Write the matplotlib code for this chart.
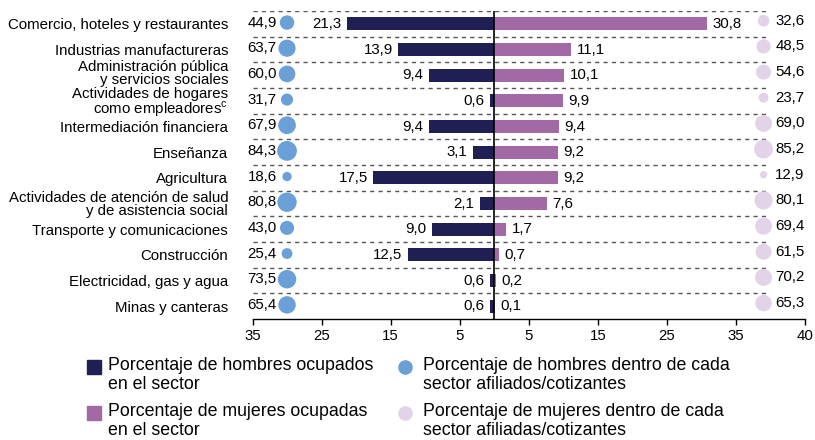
import matplotlib
matplotlib.use('Agg')
import matplotlib.pyplot as plt
import matplotlib.transforms as mtransforms
from matplotlib.patches import Rectangle
from matplotlib.lines import Line2D

plt.rcParams['font.family'] = ['Liberation Sans', 'DejaVu Sans']
plt.rcParams['mathtext.fontset'] = 'custom'
plt.rcParams['mathtext.rm'] = 'Liberation Sans'

sectores = ['Comercio, hoteles y restaurantes',
            'Industrias manufactureras',
            'Administración pública\ny servicios sociales',
            'Actividades de hogares\ncomo empleadores$^{\\mathrm{c}}$',
            'Intermediación financiera',
            'Enseñanza',
            'Agricultura',
            'Actividades de atención de salud\ny de asistencia social',
            'Transporte y comunicaciones',
            'Construcción',
            'Electricidad, gas y agua',
            'Minas y canteras']
hombres_ocup = [21.3, 13.9, 9.4, 0.6, 9.4, 3.1, 17.5, 2.1, 9.0, 12.5, 0.6, 0.6]
mujeres_ocup = [30.8, 11.1, 10.1, 9.9, 9.4, 9.2, 9.2, 7.6, 1.7, 0.7, 0.2, 0.1]
hombres_afil = [44.9, 63.7, 60.0, 31.7, 67.9, 84.3, 18.6, 80.8, 43.0, 25.4, 73.5, 65.4]
mujeres_afil = [32.6, 48.5, 54.6, 23.7, 69.0, 85.2, 12.9, 80.1, 69.4, 61.5, 70.2, 65.3]
# the original axis is evenly spaced; its last tick is labelled 40
tick_vals = [-35, -25, -15, -5, 5, 15, 25, 35, 45]
tick_labels = ['35', '25', '15', '5', '5', '15', '25', '35', '40']

c_h_bar = '#1f1f54'
c_m_bar = '#a369a5'
c_h_dot = '#6a9fd8'
c_m_dot = '#e2d3e8'

fs = 10.8

def fmt(v):
    return ('%.1f' % v).replace('.', ',')

fig = plt.figure(figsize=(8.15, 4.4), dpi=100)
ax = fig.add_axes([252.5 / 815, 1 - 319 / 440, 552.5 / 815, 308 / 440])

n = len(sectores)
ys = list(range(n))

ax.barh(ys, [-v for v in hombres_ocup], height=0.5, color=c_h_bar, zorder=3)
ax.barh(ys, mujeres_ocup, height=0.5, color=c_m_bar, zorder=3)

x_h_dot = -30.0
x_m_dot = 39.0
size_k = 2.4
ax.scatter([x_h_dot] * n, [y - 0.05 for y in ys], s=[size_k * v for v in hombres_afil],
           color=c_h_dot, zorder=4, linewidths=0)
ax.scatter([x_m_dot] * n, [y - 0.12 for y in ys], s=[size_k * 0.9 * v for v in mujeres_afil],
           color=c_m_dot, zorder=4, linewidths=0)

for i in range(n):
    ax.annotate(fmt(hombres_ocup[i]), (-hombres_ocup[i], i), xytext=(-4, 0),
                textcoords='offset points', ha='right', va='center', fontsize=fs)
    ax.annotate(fmt(mujeres_ocup[i]), (mujeres_ocup[i], i), xytext=(4, 0),
                textcoords='offset points', ha='left', va='center', fontsize=fs)
    ax.annotate(fmt(hombres_afil[i]), (x_h_dot, i - 0.05), xytext=(-7.5, 0),
                textcoords='offset points', ha='right', va='center', fontsize=fs)
    ax.annotate(fmt(mujeres_afil[i]), (x_m_dot, i - 0.12), xytext=(8.5, 0),
                textcoords='offset points', ha='left', va='center', fontsize=fs)

# dashed separators
for i in range(n):
    ax.plot([-35, 39.8], [i - 0.5, i - 0.5], color='#555555', lw=1,
            dashes=(3, 3), zorder=1)

ax.axvline(0, color='black', lw=1.2, zorder=5)

ax.set_xlim(-35, 45)
ax.set_ylim(n - 0.5, -0.5)
ax.set_yticks(ys)
ax.set_yticklabels(sectores, fontsize=fs, linespacing=0.88)
ax.tick_params(axis='y', length=0, pad=17.5)
# nudge the public administration label up a little, as in the original
lab = ax.get_yticklabels()[2]
lab.set_transform(lab.get_transform() + mtransforms.ScaledTranslation(0, 2 / 72, fig.dpi_scale_trans))
ax.set_xticks(tick_vals)
ax.set_xticklabels(tick_labels, fontsize=fs)
ax.tick_params(axis='x', length=4, width=1, direction='out', pad=3)
for s in ['top', 'right', 'left']:
    ax.spines[s].set_visible(False)
ax.spines['bottom'].set_linewidth(1)

# legend
leg_items = [
    ('rect', c_h_bar, 94, 367, 108, 'Porcentaje de hombres ocupados\nen el sector'),
    ('dot', c_h_dot, 405, 367, 423, 'Porcentaje de hombres dentro de cada\nsector afiliados/cotizantes'),
    ('rect', c_m_bar, 94, 413, 108, 'Porcentaje de mujeres ocupadas\nen el sector'),
    ('dot', c_m_dot, 405, 413, 423, 'Porcentaje de mujeres dentro de cada\nsector afiliadas/cotizantes'),
]
for kind, col, px, py, tx, lab in leg_items:
    fx = px / 815
    fy = 1 - py / 440
    if kind == 'rect':
        fig.patches.append(Rectangle((fx - 7 / 815, fy - 7 / 440), 14 / 815, 14 / 440,
                                     transform=fig.transFigure, color=col))
    else:
        fig.lines.append(Line2D([fx], [fy], marker='o', markersize=10.5,
                                color=col, markeredgewidth=0, transform=fig.transFigure))
    fig.text(tx / 815, fy + 10 / 440, lab, fontsize=12.8, ha='left', va='top',
             linespacing=1.12)

fig.savefig('out.png', dpi=100)
